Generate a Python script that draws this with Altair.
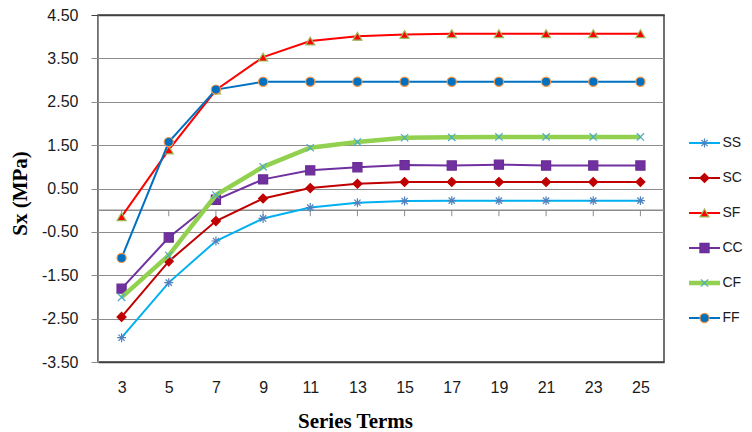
import altair as alt
import pandas as pd

terms = [3, 5, 7, 9, 11, 13, 15, 17, 19, 21, 23, 25]
series = ["SS", "SC", "SF", "CC", "CF", "FF"]

ss = [-2.94, -1.67, -0.71, -0.19, 0.06, 0.17, 0.21, 0.22, 0.22, 0.22, 0.22, 0.22]
sc = [-2.46, -1.18, -0.25, 0.27, 0.51, 0.61, 0.65, 0.65, 0.65, 0.65, 0.65, 0.65]
sf = [-0.15, 1.39, 2.77, 3.53, 3.90, 4.01, 4.05, 4.07, 4.07, 4.07, 4.07, 4.07]
cc = [-1.81, -0.63, 0.24, 0.71, 0.92, 0.99, 1.04, 1.03, 1.05, 1.03, 1.03, 1.03]
cf = [-2.01, -1.04, 0.35, 1.00, 1.44, 1.57, 1.67, 1.68, 1.69, 1.69, 1.69, 1.69]
ff = [-1.10, 1.57, 2.78, 2.96, 2.96, 2.96, 2.96, 2.96, 2.96, 2.96, 2.96, 2.96]

y_ticks = [4.5, 3.5, 2.5, 1.5, 0.5, -0.5, -1.5, -2.5, -3.5]
zero_line = [0]
legend_spacers = ["", " ", "  "]

line_colors = ["#00B0F0", "#C00000", "#FF0000", "#7030A0", "#92D050", "#0070C0"]
line_widths = [2, 2, 2, 2, 4.5, 2]
asterisk = "M-1,0L1,0M0,-1L0,1M-0.7,-0.7L0.7,0.7M-0.7,0.7L0.7,-0.7"
xmark = "M-0.8,-0.8L0.8,0.8M-0.8,0.8L0.8,-0.8"
tick_down = "M0,0L0,1"
shapes = [asterisk, "diamond", "triangle-up", "square", xmark, "circle"]
fills = ["transparent", "#C00000", "#FF0000", "#7030A0", "transparent", "#0070C0"]
strokes = ["#4F81BD", "#C00000", "#9BBB59", "#6A2C94", "#4BACC6", "#F79646"]
sizes = [80, 85, 110, 75, 75, 95]

rows = []
for name, vals in zip(series, [ss, sc, sf, cc, cf, ff]):
    for t, v in zip(terms, vals):
        rows.append({"term": t, "series": name, "sx": v})
df = pd.DataFrame(rows)

gray = "#8c8c8c"
dark = "#404040"
text_col = "#1a1a1a"

x_enc = alt.X(
    "term:O",
    scale=alt.Scale(type="point", padding=0.5, domain=terms),
    axis=alt.Axis(
        title="Series Terms", labelAngle=0, ticks=False, tickSize=0,
        labelPadding=17, domainColor=dark, domainWidth=1.5, grid=False,
        titlePadding=15, titleX=257,
    ),
)
y_scale = alt.Scale(domain=[-3.5, 4.5], nice=False, zero=False)
y_enc = alt.Y(
    "sx:Q",
    scale=y_scale,
    axis=alt.Axis(
        title="Sx (MPa)", values=y_ticks,
        labelExpr="(datum.value < 0 ? '-' : '') + format(abs(datum.value), '.2f')",
        tickSize=7,
        tickColor={"condition": {"test": "datum.value === 4.5", "value": dark}, "value": gray},
        labelPadding=13, titlePadding=11,
        domainColor=gray, domainWidth=1,
        gridColor={"condition": {"test": "datum.value === 4.5", "value": dark}, "value": gray},
        gridWidth={"condition": {"test": "datum.value === 4.5", "value": 1.5}, "value": 1},
        titleY=178,
    ),
)

color_scale = alt.Scale(domain=series, range=line_colors)
shape_scale = alt.Scale(domain=series, range=shapes)
fill_scale = alt.Scale(domain=series, range=fills)
stroke_scale = alt.Scale(domain=series, range=strokes)
size_scale = alt.Scale(domain=series, range=sizes)

zero_df = pd.DataFrame({"sx": zero_line})
ticks_df = pd.DataFrame({"term": terms, "sx": [zero_line[0]] * len(terms)})

zero_rule = alt.Chart(zero_df).mark_rule(color=gray, strokeWidth=1.5).encode(
    y=alt.Y("sx:Q", scale=y_scale)
)
zero_ticks = alt.Chart(ticks_df).mark_point(
    shape=tick_down, size=144, stroke=gray, strokeWidth=1, opacity=1, filled=False
).encode(x=x_enc, y=alt.Y("sx:Q", scale=y_scale))

layers = [zero_rule, zero_ticks]
for i, name in enumerate(series):
    base = alt.Chart(df).transform_filter(alt.datum.series == name)
    layers.append(
        base.mark_line(strokeWidth=line_widths[i]).encode(
            x=x_enc, y=y_enc,
            color=alt.Color("series:N", scale=color_scale, legend=None),
        )
    )
    layers.append(
        base.mark_point(opacity=1, strokeWidth=1.2).encode(
            x=x_enc,
            y=alt.Y("sx:Q", scale=y_scale),
            shape=alt.Shape("series:N", scale=shape_scale, legend=None),
            fill=alt.Fill("series:N", scale=fill_scale, legend=None),
            stroke=alt.Stroke("series:N", scale=stroke_scale, legend=None),
            size=alt.Size("series:N", scale=size_scale, legend=None),
        )
    )

main = alt.layer(*layers).properties(
    width=566, height=347,
    view=alt.ViewBackground(stroke=dark, strokeWidth=1.5),
)

# legend built as a small chart
leg_rows = []
for name in series:
    leg_rows.append({"series": name, "lx": 0})
    leg_rows.append({"series": name, "lx": 1})
leg_df = pd.DataFrame(leg_rows)
leg_pt_df = pd.DataFrame({"series": series, "lx": [0.5] * len(series)})

leg_y = alt.Y(
    "series:N",
    scale=alt.Scale(type="point", domain=legend_spacers + series,
                    padding=0.957, align=0.343),
    axis=alt.Axis(orient="right", title=None, ticks=False, domain=False,
                  labelPadding=2, grid=False, labelFontSize=14),
)
leg_x = alt.X("lx:Q", scale=alt.Scale(domain=[0, 1]), axis=None)

leg_layers = []
for i, name in enumerate(series):
    leg_layers.append(
        alt.Chart(leg_df).transform_filter(alt.datum.series == name)
        .mark_line(strokeWidth=line_widths[i]).encode(
            x=leg_x, y=leg_y,
            color=alt.Color("series:N", scale=color_scale, legend=None),
        )
    )
leg_layers.append(
    alt.Chart(leg_pt_df).mark_point(opacity=1, strokeWidth=1.2).encode(
        x=leg_x, y=leg_y,
        shape=alt.Shape("series:N", scale=shape_scale, legend=None),
        fill=alt.Fill("series:N", scale=fill_scale, legend=None),
        stroke=alt.Stroke("series:N", scale=stroke_scale, legend=None),
        size=alt.Size("series:N", scale=size_scale, legend=None),
    )
)
legend = alt.layer(*leg_layers).properties(width=31, height=347)

chart = (
    alt.hconcat(main, legend, spacing=14)
    .properties(padding={"left": 0, "top": -2, "right": 0, "bottom": 0})
    .configure_view(stroke=None)
    .configure_axis(
        labelFont="Liberation Sans", labelFontSize=16, labelColor=text_col,
        titleFont="Liberation Serif", titleFontSize=21, titleFontWeight="bold",
        titleColor="#000000",
    )
)

chart.save("out.html", embed_options={"renderer": "svg", "actions": False})
